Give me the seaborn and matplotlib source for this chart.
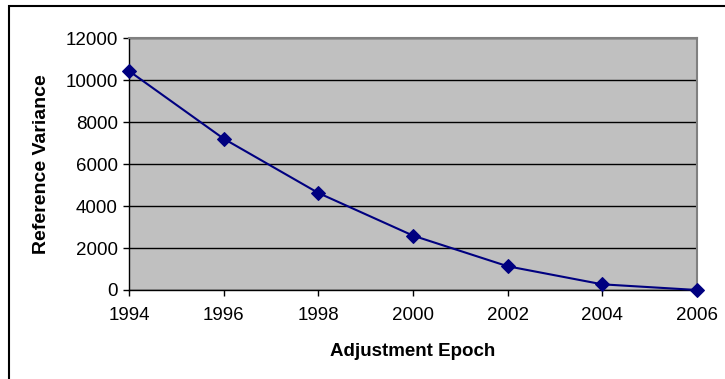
import matplotlib
matplotlib.use("Agg")
import matplotlib.pyplot as plt
import seaborn as sns
import pandas as pd
from matplotlib.patches import Rectangle

epochs = [1994, 1996, 1998, 2000, 2002, 2004, 2006]
variance = [10430, 7205, 4620, 2590, 1130, 270, 0]
y_ticks = [0, 2000, 4000, 6000, 8000, 10000, 12000]

df = pd.DataFrame({"Adjustment Epoch": epochs, "Reference Variance": variance})

sns.set_style("white")
plt.rcParams["font.family"] = ["Liberation Sans", "DejaVu Sans"]

W, H = 725, 379
fig = plt.figure(figsize=(W / 100, H / 100), dpi=100)
left, right, top, bottom = 129, 697, 38, 290
ax = fig.add_axes([left / W, 1 - bottom / H, (right - left) / W, (bottom - top) / H])

sns.lineplot(data=df, x="Adjustment Epoch", y="Reference Variance", ax=ax,
             color="#000080", linewidth=1.5, marker="D", markersize=7,
             markeredgecolor="#000080", markerfacecolor="#000080",
             zorder=3, clip_on=False)

ax.set_facecolor("#C0C0C0")
ax.set_xlim(1994, 2006)
ax.set_ylim(0, 12000)
ax.set_xticks(epochs)
ax.set_yticks(y_ticks)
ax.set_xticklabels([str(e) for e in epochs])
ax.set_yticklabels([str(t) for t in y_ticks])
ax.yaxis.grid(True, color="black", linewidth=1.0)
ax.xaxis.grid(False)
ax.set_axisbelow(True)

for side in ("top", "right"):
    ax.spines[side].set_color("#808080")
    ax.spines[side].set_linewidth(1.5)
for side in ("left", "bottom"):
    ax.spines[side].set_color("black")
    ax.spines[side].set_linewidth(1.0)

ax.tick_params(axis="both", which="major", direction="out", length=4,
               width=1, color="black", labelsize=13.5, labelcolor="black")
ax.tick_params(axis="x", pad=8, bottom=True)
ax.tick_params(axis="y", pad=4, left=True)

ax.set_xlabel("Adjustment Epoch", fontsize=13.5, fontweight="bold",
              va="center", color="black")
ax.set_ylabel("Reference Variance", fontsize=14, fontweight="bold",
              va="center", color="black")
ax.xaxis.set_label_coords(0.5, -(352 - bottom) / (bottom - top))
ax.yaxis.set_label_coords((42 - left) / (right - left), 0.5)

# chart frame
fig.patches.append(Rectangle((9 / W, -0.05), 1.0, 1 - 6 / H + 0.05,
                             transform=fig.transFigure, fill=False,
                             edgecolor="black", linewidth=1.5))

fig.savefig("out.png", dpi=100)
